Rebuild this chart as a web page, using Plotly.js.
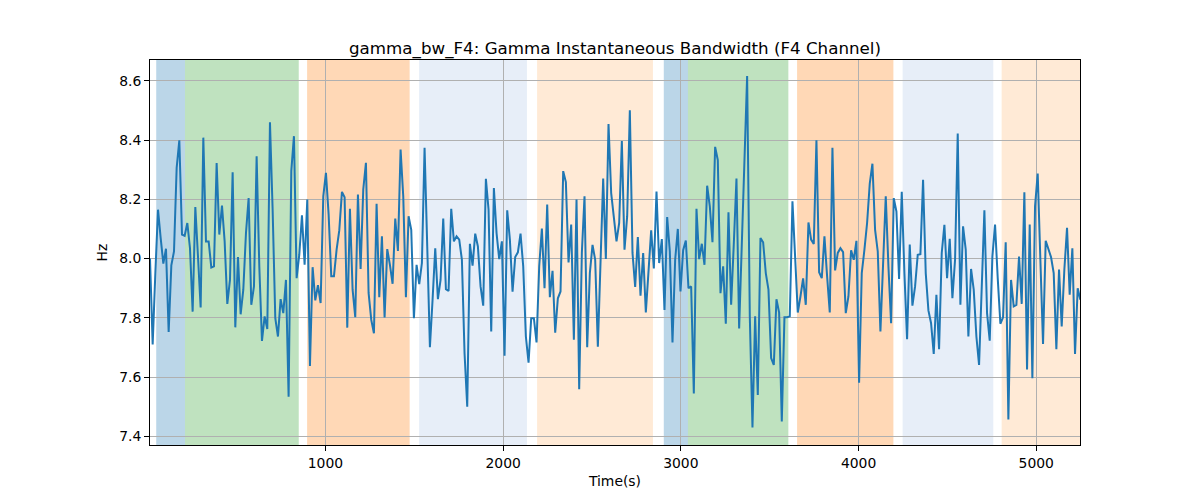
<!DOCTYPE html>
<html>
<head>
<meta charset="utf-8">
<script src="https://cdn.plot.ly/plotly-3.0.1.min.js"></script>
<style>
  body { margin: 0; background: #fff; }
  #chart { width: 1200px; height: 500px; }
</style>
</head>
<body>
<div id="chart"></div>
<script>
// sampling grid of the bandwidth series (seconds)
var startTime = 13;
var stepTime = 15;

// gamma instantaneous bandwidth, F4 channel (Hz)
var bandwidth = [
  8.00, 7.71, 7.95, 8.165, 8.07, 7.983, 8.033, 7.752, 7.977, 8.024,
  8.306, 8.399, 8.081, 8.077, 8.12, 8.035, 7.821, 8.174, 8.007, 7.835,
  8.408, 8.058, 8.058, 7.97, 7.974, 8.322, 8.081, 8.179, 8.058, 7.847,
  7.928, 8.291, 7.768, 8.005, 7.812, 7.895, 8.086, 8.204, 7.844, 7.906,
  8.345, 7.974, 7.722, 7.805, 7.762, 8.46, 8.165, 7.799, 7.737, 7.863,
  7.816, 7.928, 7.534, 8.295, 8.413, 7.934, 8.013, 8.146, 7.979, 8.199,
  7.638, 7.971, 7.859, 7.910, 7.850, 8.21, 8.289, 8.15, 7.94, 7.94,
  8.03, 8.095, 8.225, 8.207, 7.767, 8.168, 7.895, 7.802, 8.216, 7.965,
  8.233, 8.323, 7.884, 7.793, 7.748, 8.185, 7.87, 8.075, 7.801, 8.032,
  7.979, 7.915, 8.135, 8.026, 8.368, 8.21, 7.87, 8.143, 8.097, 7.799,
  7.979, 7.914, 7.985, 8.374, 8.041, 7.701, 7.861, 8.035, 7.863, 7.928,
  8.135, 7.897, 7.891, 8.168, 8.058, 8.075, 8.064, 7.996,
  7.68, 7.50, 8.05, 7.976, 8.084, 8.041, 7.906, 7.841, 8.269, 8.165,
  7.754, 8.238, 8.086, 7.998, 8.058, 7.672, 8.163, 8.064, 7.888, 8.005,
  8.021, 8.084, 7.974, 7.737, 7.649, 7.799, 7.799, 7.717, 7.974, 8.101,
  7.90, 8.182, 7.87, 7.959, 7.75, 7.866, 7.889, 8.295, 8.258, 7.987,
  8.115, 7.726, 8.199, 7.559, 8.02, 8.21, 7.701, 7.951, 8.046, 7.996,
  7.703, 7.996, 8.27, 7.999, 8.454, 8.221, 8.143, 8.058,
  8.12, 8.397, 8.03, 8.143, 8.50, 8.019, 7.904, 8.073, 7.875, 8.019,
  7.818, 7.951, 8.095, 7.967, 8.226, 7.985, 8.066, 7.827, 8.14, 8.024,
  7.717, 7.996, 8.10, 7.889, 8.028, 8.061, 7.90, 7.906, 7.545, 8.168,
  7.998, 8.05, 7.979, 8.246, 8.176, 8.055, 8.377, 8.332, 7.883, 7.974,
  7.78, 8.156, 7.844, 8.05, 8.27, 7.764, 8.05, 8.33, 8.616, 7.805,
  7.43, 7.805, 7.54, 8.069, 8.055, 7.951, 7.895, 7.664,
  7.641, 7.863, 7.818, 7.45, 7.802, 7.802, 7.805, 8.193, 7.996, 7.818,
  7.872, 7.933, 7.844, 8.122, 8.064, 8.049, 8.399, 7.954, 7.934, 8.075,
  7.94, 7.818, 8.374, 7.96, 8.019, 8.035, 8.022, 7.816, 7.872, 8.028,
  7.996, 8.06, 7.581, 7.951, 8.03, 8.12, 8.253, 8.32, 8.097, 8.024,
  7.754, 7.996, 8.21, 7.974, 7.782, 8.204, 8.159, 7.931, 8.225, 7.951,
  7.728, 8.047, 7.841, 7.906, 8.013, 8.015, 8.266, 7.951,
  7.825, 7.782, 7.678, 7.878, 7.694, 8.019, 8.114, 7.934, 8.067, 7.866,
  7.996, 8.422, 7.844, 8.109, 8.03, 7.737, 7.965, 7.895, 7.737, 7.641,
  7.895, 8.163, 7.816, 7.723, 8.007, 8.115, 7.934, 7.78, 7.802, 8.055,
  7.457, 7.928, 7.839, 7.844, 8.007, 7.847, 8.224, 7.626, 8.115, 7.596,
  8.176, 8.287, 7.996, 7.712, 8.06, 8.032, 8.005, 7.951, 7.694, 7.963,
  7.771, 7.963, 8.104, 7.878, 8.035, 7.678, 7.90, 7.861
];

// background phases
var phaseStart = [48, 210, 897, 1527, 2191, 2904, 3040, 3654, 4248, 4805];
var phaseEnd   = [210, 850, 1474, 2134, 2843, 3040, 3605, 4196, 4758, 5300];
var phaseKind  = ['a', 'b', 'c', 'd', 'e', 'a', 'b', 'c', 'd', 'e'];

var yTicks = [7.4, 7.6, 7.8, 8.0, 8.2, 8.4, 8.6];
var xTicks = [1000, 2000, 3000, 4000, 5000];

var kindColor = {
    a: 'rgba(31,119,180,0.3)',
    b: 'rgba(44,160,44,0.3)',
    c: 'rgba(255,127,14,0.3)',
    d: 'rgba(174,199,232,0.3)',
    e: 'rgba(255,187,120,0.3)'
};

var times = bandwidth.map(function (v, i) { return startTime + stepTime * i; });

var shapes = phaseStart.map(function (s, i) {
    return {
        type: 'rect', xref: 'x', yref: 'paper',
        x0: s, x1: phaseEnd[i], y0: 0, y1: 1,
        fillcolor: kindColor[phaseKind[i]],
        line: { width: 0 },
        layer: 'below'
    };
});

var trace = {
    x: times,
    y: bandwidth,
    mode: 'lines',
    type: 'scatter',
    line: { color: '#1f77b4', width: 2 }
};

var font = 'DejaVu Sans, sans-serif';

var layout = {
    width: 1200,
    height: 500,
    showlegend: false,
    paper_bgcolor: '#fff',
    plot_bgcolor: 'rgba(0,0,0,0)',
    font: { family: font, size: 13.9, color: '#000' },
    title: {
        text: 'gamma_bw_F4: Gamma Instantaneous Bandwidth (F4 Channel)',
        font: { family: font, size: 16.7, color: '#000' },
        x: 0.5, xref: 'paper',
        y: 1, yref: 'paper', yanchor: 'bottom',
        pad: { b: 6 }
    },
    xaxis: {
        range: [startTime, 5246],
        tickvals: xTicks,
        ticktext: xTicks.map(String),
        ticks: 'outside', ticklen: 5, tickcolor: '#000', tickwidth: 1,
        showline: true, mirror: true, linecolor: '#000', linewidth: 1,
        showgrid: true, gridcolor: '#b0b0b0', gridwidth: 1,
        zeroline: false,
        title: { text: 'Time(s)', font: { family: font, size: 13.9 }, standoff: 6 }
    },
    yaxis: {
        range: [7.371, 8.67],
        tickvals: yTicks,
        ticktext: yTicks.map(function (t) { return t.toFixed(1); }),
        ticks: 'outside', ticklen: 5, tickcolor: '#000', tickwidth: 1,
        showline: true, mirror: true, linecolor: '#000', linewidth: 1,
        showgrid: true, gridcolor: '#b0b0b0', gridwidth: 1,
        zeroline: false,
        title: { text: 'Hz', font: { family: font, size: 13.9 }, standoff: 8 }
    },
    shapes: shapes,
    margin: { l: 150, r: 120, t: 60, b: 55 }
};

Plotly.newPlot('chart', [trace], layout, { staticPlot: true });
</script>
</body>
</html>
